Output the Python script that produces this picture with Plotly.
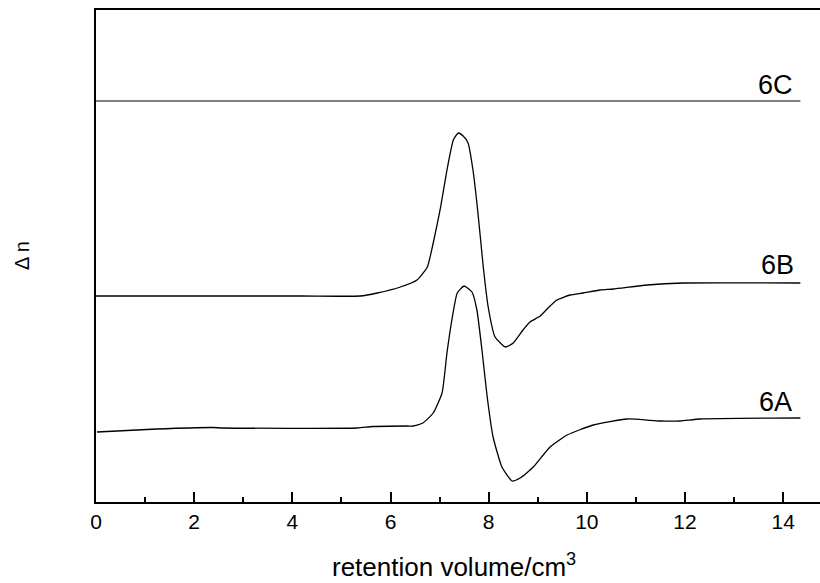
import plotly.graph_objects as go

# retention volume (cm^3) and Δn (arbitrary units)
x_6A = [0.02, 1.24, 2.38, 2.59, 5.32, 5.64, 6.34, 6.46, 6.66, 6.87, 7.05, 7.15, 7.25, 7.36, 7.50, 7.66,
        7.76, 7.87, 7.97, 8.09, 8.27, 8.48, 8.64, 8.91, 9.25, 9.60, 10.13, 10.82, 11.49,
        11.90, 12.31, 14.35]
y_6A = [70, 73, 74.5, 74, 74, 75.5, 76, 76, 79, 89, 109, 149, 182, 209, 216, 210,
        192, 149, 105, 65, 35, 21, 24, 35, 55, 67, 77, 83, 81,
        81, 83, 84]

x_6B = [0.00, 4.16, 5.38, 5.73, 6.20, 6.54, 6.75, 6.87, 7.01, 7.15, 7.28, 7.38, 7.48, 7.58, 7.68,
        7.76, 7.83, 7.89, 7.99, 8.13, 8.34, 8.50, 8.70, 8.84, 9.05, 9.21, 9.39, 9.66, 9.92,
        10.27, 10.54, 11.23, 11.96, 14.35]
y_6B = [206, 206, 206, 209, 215, 222, 235, 259, 292, 332, 362, 369, 366, 359, 332,
        299, 265, 235, 195, 165, 155, 159, 172, 180, 186, 194, 202, 207, 209,
        212, 213, 217, 219, 219]

x_6C = [0.0, 14.35]
y_6C = [401, 401]

labels = ["6A", "6B", "6C"]
label_x = [13.84, 13.88, 13.84]
label_y = [100, 237, 417]

x_ticks = [0, 2, 4, 6, 8, 10, 12, 14]

FONT = "Liberation Sans, Arial"

fig = go.Figure()
for xs, ys, w in [(x_6A, y_6A, 1.3), (x_6B, y_6B, 1.3), (x_6C, y_6C, 1.0)]:
    fig.add_trace(go.Scatter(x=xs, y=ys, mode="lines",
                             line=dict(color="black", width=w, shape="spline", smoothing=0.5),
                             showlegend=False, hoverinfo="skip"))

for t, lx, ly in zip(labels, label_x, label_y):
    fig.add_annotation(x=lx, y=ly, text=t, showarrow=False,
                       font=dict(family=FONT, size=27, color="black"),
                       xanchor="center", yanchor="middle")

fig.add_annotation(xref="paper", yref="paper", x=(22 - 96) / 724, y=0.5,
                   text="Δ n", textangle=-90, showarrow=False,
                   font=dict(family=FONT, size=20, color="black"),
                   xanchor="center", yanchor="middle")
fig.add_annotation(xref="paper", yref="paper", x=(454 - 96) / 724, y=(502 - 565) / 492,
                   text="retention volume/cm<sup>3</sup>", showarrow=False,
                   font=dict(family=FONT, size=26, color="black"),
                   xanchor="center", yanchor="middle")

fig.update_layout(
    width=820, height=583,
    margin=dict(l=96, r=0, t=10, b=81),
    plot_bgcolor="white", paper_bgcolor="white",
    xaxis=dict(range=[0, 14.75], tickvals=x_ticks, ticks="inside", ticklen=10, tickwidth=1.5,
               tickcolor="black", showline=True, linecolor="black", linewidth=2, mirror=True,
               showgrid=False, zeroline=False,
               tickfont=dict(family=FONT, size=21, color="black"),
               minor=dict(dtick=1, ticks="inside", ticklen=5, tickwidth=1.5, tickcolor="black")),
    yaxis=dict(range=[0, 492], showticklabels=False, ticks="", showline=True, linecolor="black",
               linewidth=2, showgrid=False, zeroline=False),
)

fig.write_html("out.html")
